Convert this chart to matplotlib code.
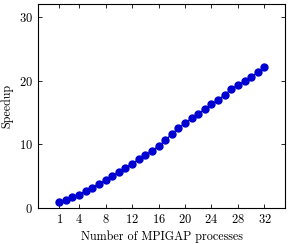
import matplotlib
matplotlib.use("Agg")
import matplotlib.pyplot as plt

# data
procs = list(range(1, 33))
speedup = [1.0, 1.2, 1.65, 2.1, 2.65, 3.2, 3.8, 4.4, 5.05, 5.6,
           6.35, 6.9, 7.65, 8.3, 9.0, 9.65, 10.6, 11.6, 12.5, 13.3,
           14.05, 14.7, 15.55, 16.25, 17.0, 17.7, 18.7, 19.25, 19.9, 20.5,
           21.35, 22.1]
xticks = [1, 4, 8, 12, 16, 20, 24, 28, 32]
yticks = [0, 10, 20, 30]

plt.rcParams['font.family'] = ['cmr10', 'DejaVu Serif']
plt.rcParams['axes.formatter.use_mathtext'] = True

fig = plt.figure(figsize=(2.88, 2.44), dpi=100)
ax = fig.add_axes([38 / 288, 36 / 244, 247 / 288, 204 / 244])

ax.plot(procs, speedup, color='#0000d0', marker='o', markersize=5, linewidth=1.0)

ax.set_xlim(-2.2, 35.1)
ax.set_ylim(0, 32.0)
ax.set_xticks(xticks)
ax.set_yticks(yticks)
ax.tick_params(direction='in', top=True, right=True, labelsize=9, length=3, width=0.6)
for s in ax.spines.values():
    s.set_linewidth(0.8)

ax.set_xlabel('Number of MPIGAP processes', fontsize=8.7, labelpad=3)
ax.set_ylabel('Speedup', fontsize=8.7, labelpad=4)

fig.savefig('out.png', dpi=100)
